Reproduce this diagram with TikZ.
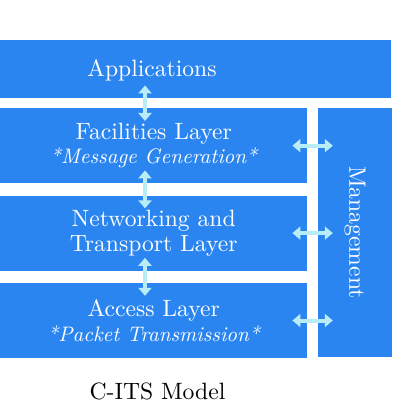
\documentclass[tikz,border=0pt]{standalone}
\usepackage{fontspec}
\setmainfont{lmroman10}[Extension=.otf, UprightFont=*-regular, ItalicFont=*-italic, BoldFont=*-bold, BoldItalicFont=*-bolditalic]
\usetikzlibrary{arrows.meta, positioning}
\definecolor{layerblue}{RGB}{43,133,240}
\definecolor{linkcyan}{RGB}{184,236,246}
\newcommand{\layerfont}{\fontsize{23.6}{24.5}\selectfont}
\newcommand{\notefont}{\fontsize{21}{24.5}\selectfont\itshape}

\begin{document}
\begin{tikzpicture}[x=1pt, y=-1pt, node distance=12pt,
  layer/.style={rectangle, fill=layerblue, text=white, minimum width=307pt, minimum height=75pt, inner sep=0pt, align=center, font=\layerfont},
  link/.style={draw=linkcyan, line width=4pt, {Triangle[width=13pt,length=8pt]}-{Triangle[width=13pt,length=8pt]}, shorten <=-13pt, shorten >=-13pt}]
  \useasboundingbox (0,0) rectangle (403,403);
  \node[layer, minimum width=391pt, minimum height=58pt, anchor=north west] (app) at (0,40) {};
  \node[text=white, font=\layerfont] (apptext) at (152,70) {Applications};
  \node[layer, anchor=north west] (fac) at (0,108) {Facilities Layer\\{\notefont *Message Generation*}};
  \node[layer, below=of fac] (net) {Networking and\\Transport Layer};
  \node[layer, below=of net] (acc) {Access Layer\\{\notefont *Packet Transmission*}};
  \node[layer, rotate=-90, minimum width=249pt, minimum height=74pt] (mgmt) at (355,232.5) {Management};
  \node[font=\layerfont, inner sep=0pt] (caption) at (157.5,391) {C-ITS Model};
  % links between the layers
  \coordinate (axis) at (145,0);
  \draw[link] (axis |- app.south) -- (axis |- fac.north);
  \draw[link] (axis |- fac.south) -- (axis |- net.north);
  \draw[link] (axis |- net.south) -- (axis |- acc.north);
  \draw[link, shorten <=-15pt, shorten >=-15pt] (fac.east) -- (fac.east -| mgmt.south);
  \draw[link, shorten <=-15pt, shorten >=-15pt] (net.east) -- (net.east -| mgmt.south);
  \draw[link, shorten <=-15pt, shorten >=-15pt] (acc.east) -- (acc.east -| mgmt.south);
\end{tikzpicture}
\end{document}
